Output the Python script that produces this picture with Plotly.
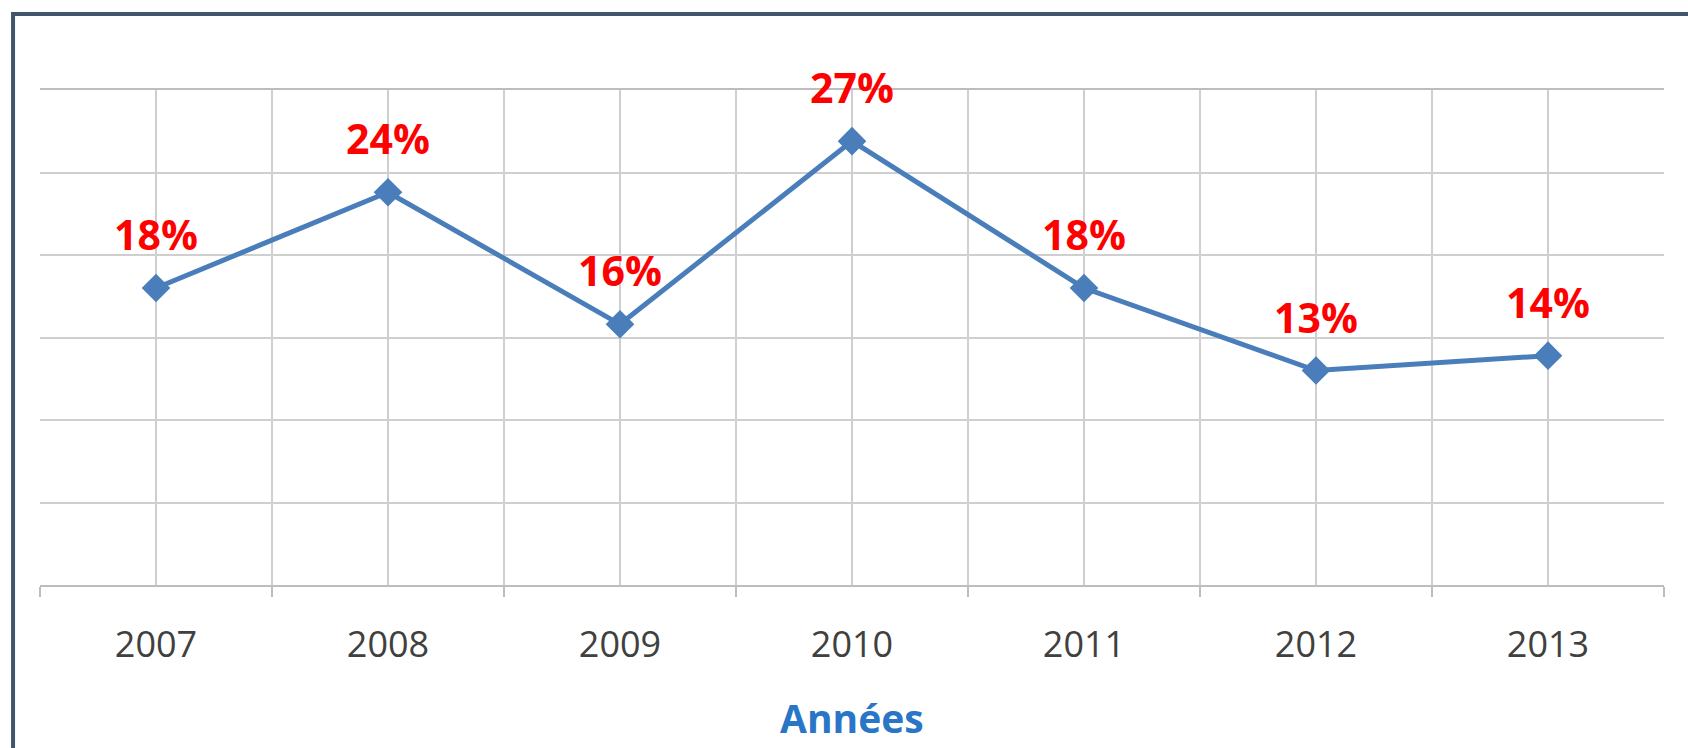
import plotly.graph_objects as go

years = ["2007", "2008", "2009", "2010", "2011", "2012", "2013"]
values = [18.0, 23.8, 15.8, 26.9, 18.0, 13.0, 13.9]
labels = ["18%", "24%", "16%", "27%", "18%", "13%", "14%"]
x_title = "Années"

xs = list(range(len(years)))

fig = go.Figure()
fig.add_trace(go.Scatter(
    x=xs, y=values, mode="lines+markers",
    line=dict(color="#4a7ebb", width=5),
    marker=dict(symbol="diamond", size=22, color="#4a7ebb"),
    hoverinfo="skip", showlegend=False,
))

for x, v, t in zip(xs, values, labels):
    fig.add_annotation(
        x=x, y=v, xref="x", yref="y", text=t, showarrow=False,
        yanchor="middle", yshift=54,
        font=dict(family="Open Sans", size=41, color="#ff0000", weight="bold"),
    )

fig.add_annotation(
    x=0.5, y=-0.2667, xref="paper", yref="paper", text=x_title, showarrow=False,
    yanchor="middle", xanchor="center",
    font=dict(family="Open Sans", size=39, color="#2a76c6", weight="bold"),
)

# outer frame
fig.add_shape(
    type="rect", xref="paper", yref="paper",
    x0=-0.0166, x1=1.03, y0=-0.40, y1=1.1536,
    line=dict(color="#44546a", width=4), fillcolor="rgba(0,0,0,0)", layer="above",
)

fig.update_layout(
    width=1688, height=748,
    margin=dict(l=40, r=24, t=90, b=163),
    paper_bgcolor="white", plot_bgcolor="white",
    xaxis=dict(
        range=[-0.5, 6.5], tickvals=xs, ticktext=years,
        showgrid=True, gridcolor="#cfcfcf", gridwidth=2,
        ticks="", ticklabelstandoff=27,
        tickfont=dict(family="Open Sans", size=36, color="#404040"),
        showline=True, linecolor="#bdbdbd", linewidth=2, mirror=True,
        zeroline=False, fixedrange=True,
        minor=dict(tickvals=[i - 0.5 for i in range(len(years) + 1)],
                   showgrid=True, gridcolor="#cfcfcf", gridwidth=2,
                   ticks="outside", ticklen=10, tickcolor="#bdbdbd", tickwidth=2),
    ),
    yaxis=dict(
        range=[0, 30], dtick=5, showticklabels=False, ticks="",
        showgrid=True, gridcolor="#cfcfcf", gridwidth=2,
        zeroline=False, showline=False, fixedrange=True,
    ),
)

fig.write_html(
    "out.html",
    config={"displayModeBar": False, "staticPlot": True},
    post_script="document.body.style.margin='0';document.body.style.overflow='hidden';",
)
